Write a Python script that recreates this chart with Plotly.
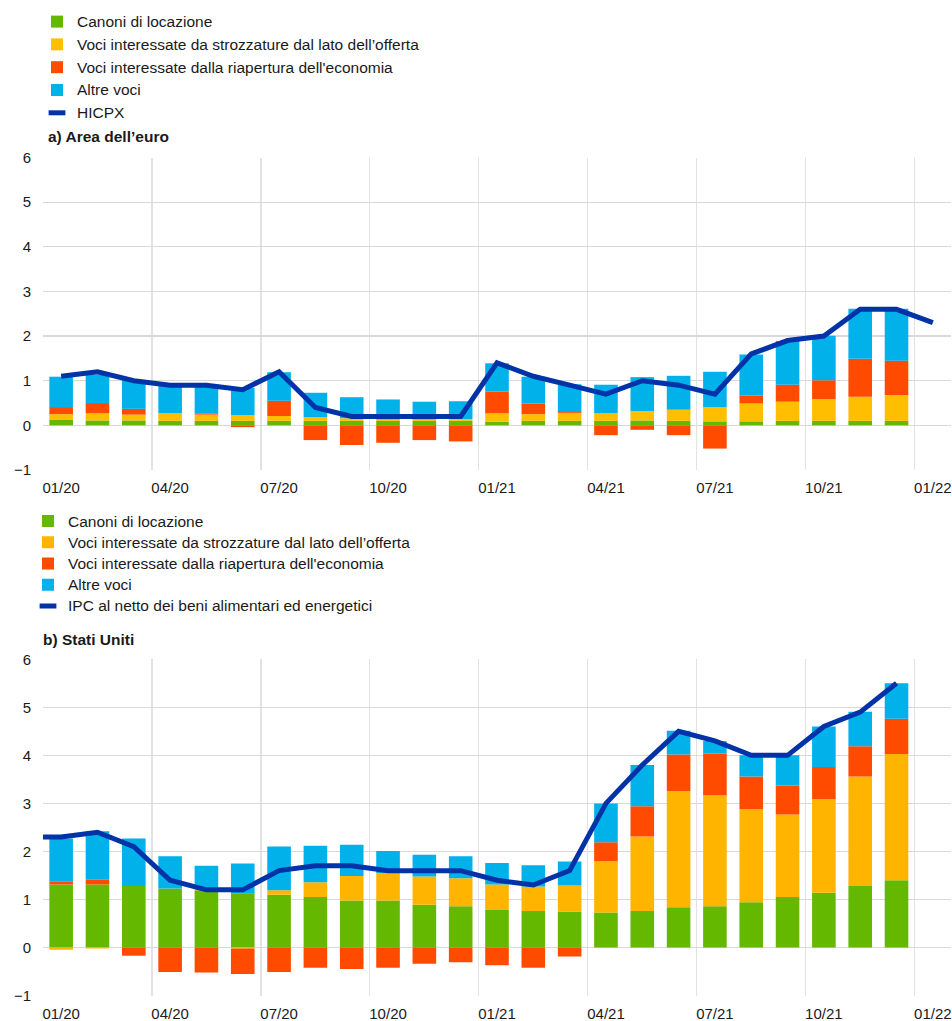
import plotly.graph_objects as go

# ---------------- DATA ----------------
month_labels = ["01/20", "02/20", "03/20", "04/20", "05/20", "06/20", "07/20", "08/20",
                "09/20", "10/20", "11/20", "12/20", "01/21", "02/21", "03/21", "04/21",
                "05/21", "06/21", "07/21", "08/21", "09/21", "10/21", "11/21", "12/21"]
tick_labels = ["01/20", "04/20", "07/20", "10/20", "01/21", "04/21", "07/21", "10/21", "01/22"]

series_names = ["Canoni di locazione",
                "Voci interessate da strozzature dal lato dell\u2019offerta",
                "Voci interessate dalla riapertura dell'economia",
                "Altre voci"]

# a) Euro area (percentage points), Jan 2020 - Dec 2021
ea_rents = [0.12, 0.11, 0.11, 0.10, 0.10, 0.10, 0.10, 0.10, 0.10, 0.10, 0.10, 0.10,
            0.08, 0.10, 0.10, 0.10, 0.11, 0.10, 0.09, 0.09, 0.10, 0.10, 0.10, 0.10]
ea_supply = [0.13, 0.16, 0.13, 0.17, 0.14, 0.13, 0.11, 0.08, 0.06, 0.03, 0.03, 0.04,
             0.19, 0.15, 0.18, 0.17, 0.21, 0.25, 0.32, 0.40, 0.43, 0.49, 0.54, 0.58]
ea_reopen = [0.16, 0.23, 0.13, 0.00, 0.02, -0.04, 0.34, -0.33, -0.44, -0.39, -0.33, -0.36,
             0.49, 0.24, 0.04, -0.22, -0.10, -0.22, -0.52, 0.18, 0.38, 0.42, 0.85, 0.77]
ea_other = [0.68, 0.64, 0.64, 0.63, 0.64, 0.61, 0.64, 0.55, 0.47, 0.45, 0.40, 0.40,
            0.63, 0.60, 0.60, 0.64, 0.76, 0.76, 0.79, 0.92, 0.98, 1.00, 1.12, 1.16]
# HICPX, Jan 2020 - Jan 2022
ea_hicpx = [1.1, 1.2, 1.0, 0.9, 0.9, 0.8, 1.2, 0.4, 0.2, 0.2, 0.2, 0.2,
            1.4, 1.1, 0.9, 0.7, 1.0, 0.9, 0.7, 1.6, 1.9, 2.0, 2.6, 2.6, 2.3]

# b) United States (percentage points), Jan 2020 - Dec 2021
us_rents = [1.31, 1.31, 1.28, 1.23, 1.19, 1.12, 1.10, 1.05, 0.98, 0.98, 0.89, 0.86,
            0.78, 0.76, 0.75, 0.73, 0.76, 0.84, 0.86, 0.94, 1.05, 1.14, 1.28, 1.40]
us_supply = [-0.05, -0.02, 0.00, 0.00, 0.03, -0.02, 0.09, 0.31, 0.51, 0.57, 0.59, 0.58,
             0.53, 0.51, 0.54, 1.07, 1.55, 2.42, 2.31, 1.94, 1.72, 1.95, 2.28, 2.63]
us_reopen = [0.07, 0.10, -0.17, -0.51, -0.52, -0.53, -0.51, -0.42, -0.45, -0.42, -0.34, -0.31,
             -0.37, -0.42, -0.19, 0.39, 0.63, 0.76, 0.87, 0.68, 0.60, 0.67, 0.63, 0.73]
us_other = [0.89, 1.01, 0.99, 0.67, 0.48, 0.63, 0.91, 0.76, 0.65, 0.46, 0.45, 0.46,
            0.45, 0.44, 0.50, 0.81, 0.86, 0.49, 0.26, 0.44, 0.63, 0.84, 0.72, 0.74]
# Core CPI, Dec 2019 - Dec 2021
us_core = [2.3, 2.3, 2.4, 2.1, 1.4, 1.2, 1.2, 1.6, 1.7, 1.7, 1.6, 1.6, 1.6,
           1.4, 1.3, 1.6, 3.0, 3.8, 4.5, 4.3, 4.0, 4.0, 4.6, 4.9, 5.5]

# ---------------- STYLE ----------------
GREEN = "#65b800"
YELLOW_A = "#ffbf00"
YELLOW_B = "#ffb400"
ORANGE = "#ff4b00"
LBLUE = "#00b1ea"
DBLUE = "#0033a8"
GRID = "#d9d9d9"
VGRID = "#e2e2e2"
FONT = "Liberation Sans, Arial, sans-serif"
TXT = "#1a1a1a"
LEG_TXT = 15.5

W, H = 952, 1021
ML, MR = 43, 1

bar_x = list(range(len(month_labels)))
ea_line_x = list(range(len(ea_hicpx)))
us_line_x = list(range(-1, len(us_core) - 1))
tick_pos = [3 * i for i in range(len(tick_labels))]
grid_pos = [p - 0.5 for p in tick_pos]


def leg_name(s):
    return f'<span style="font-size:{LEG_TXT}px">{s}</span>'


fig = go.Figure()


def add_panel(xa, ya, leg, vals, colors, line_y, line_x, line_name):
    for name, v, c in zip(series_names, vals, colors):
        fig.add_trace(go.Bar(x=bar_x, y=v, name=leg_name(name),
                             marker=dict(color=c, line=dict(width=0)),
                             width=0.65, xaxis=xa, yaxis=ya, legend=leg, legendgroup=leg + name,
                             hoverinfo="skip"))
    fig.add_trace(go.Scatter(x=line_x, y=line_y, mode="lines", line=dict(color=DBLUE, width=5),
                             xaxis=xa, yaxis=ya, showlegend=False, hoverinfo="skip"))
    fig.add_trace(go.Scatter(x=[None], y=[None], mode="markers", name=leg_name(line_name),
                             marker=dict(symbol="line-ew", size=12, color=DBLUE,
                                         line=dict(width=5, color=DBLUE)),
                             xaxis=xa, yaxis=ya, legend=leg, legendgroup=leg + line_name))


add_panel("x", "y", "legend", [ea_rents, ea_supply, ea_reopen, ea_other],
          [GREEN, YELLOW_A, ORANGE, LBLUE], ea_hicpx, ea_line_x, "HICPX")
add_panel("x2", "y2", "legend2", [us_rents, us_supply, us_reopen, us_other],
          [GREEN, YELLOW_B, ORANGE, LBLUE], us_core, us_line_x,
          "IPC al netto dei beni alimentari ed energetici")

xcommon = dict(range=[-0.5, 24.5], tickmode="array", tickvals=tick_pos, ticktext=tick_labels,
               showgrid=False, zeroline=False, showline=False, ticks="",
               tickfont=dict(family=FONT, size=15, color=TXT), ticklabelstandoff=7,
               ticklabeloverflow="allow",
               minor=dict(tickmode="array", tickvals=grid_pos, showgrid=True,
                          gridcolor=VGRID, gridwidth=1.2, ticks=""),
               fixedrange=True)
ycommon = dict(range=[-1, 6], dtick=1, tick0=0, showgrid=True, gridcolor=GRID, gridwidth=1.2,
               zeroline=False, showline=False, ticks="",
               tickfont=dict(family=FONT, size=15, color=TXT), ticklabelstandoff=11,
               fixedrange=True)

top_dom = [1 - 470 / H, 1 - 157.5 / H]
bot_dom = [1 - 995.5 / H, 1 - 659.3 / H]

legcommon = dict(font=dict(family=FONT, size=14, color=TXT), xref="container", yref="container",
                 xanchor="left", yanchor="top", bgcolor="rgba(0,0,0,0)", borderwidth=0,
                 traceorder="grouped", itemclick=False, itemdoubleclick=False)


def px_x(p):
    return (p - ML) / (W - ML - MR)


def px_y(p):
    return 1 - p / H


fig.update_layout(
    width=W, height=H,
    margin=dict(l=ML, r=MR, t=0, b=0, autoexpand=False),
    paper_bgcolor="white", plot_bgcolor="white",
    barmode="relative", bargap=0.35,
    showlegend=True,
    font=dict(family=FONT, color=TXT),
    xaxis=dict(domain=[0, 1], anchor="y", **xcommon),
    yaxis=dict(domain=top_dom, anchor="x", **ycommon),
    xaxis2=dict(domain=[0, 1], anchor="y2", **xcommon),
    yaxis2=dict(domain=bot_dom, anchor="x2", **ycommon),
    legend=dict(x=37 / W, y=1 - 6 / H, tracegroupgap=1.6, **legcommon),
    legend2=dict(x=28 / W, y=1 - 505.5 / H, tracegroupgap=0, **legcommon),
    annotations=[
        dict(text="<b>a) Area dell\u2019euro</b>", xref="paper", yref="paper",
             x=px_x(46), y=px_y(136), xanchor="left", yanchor="middle", showarrow=False,
             font=dict(family=FONT, size=15.5, color=TXT)),
        dict(text="<b>b) Stati Uniti</b>", xref="paper", yref="paper",
             x=px_x(41), y=px_y(639), xanchor="left", yanchor="middle", showarrow=False,
             font=dict(family=FONT, size=15.5, color=TXT)),
    ],
)

fig.write_html("out.html", config={"displayModeBar": False, "staticPlot": True},
               post_script="document.body.style.margin='0';document.body.style.overflow='hidden';")
